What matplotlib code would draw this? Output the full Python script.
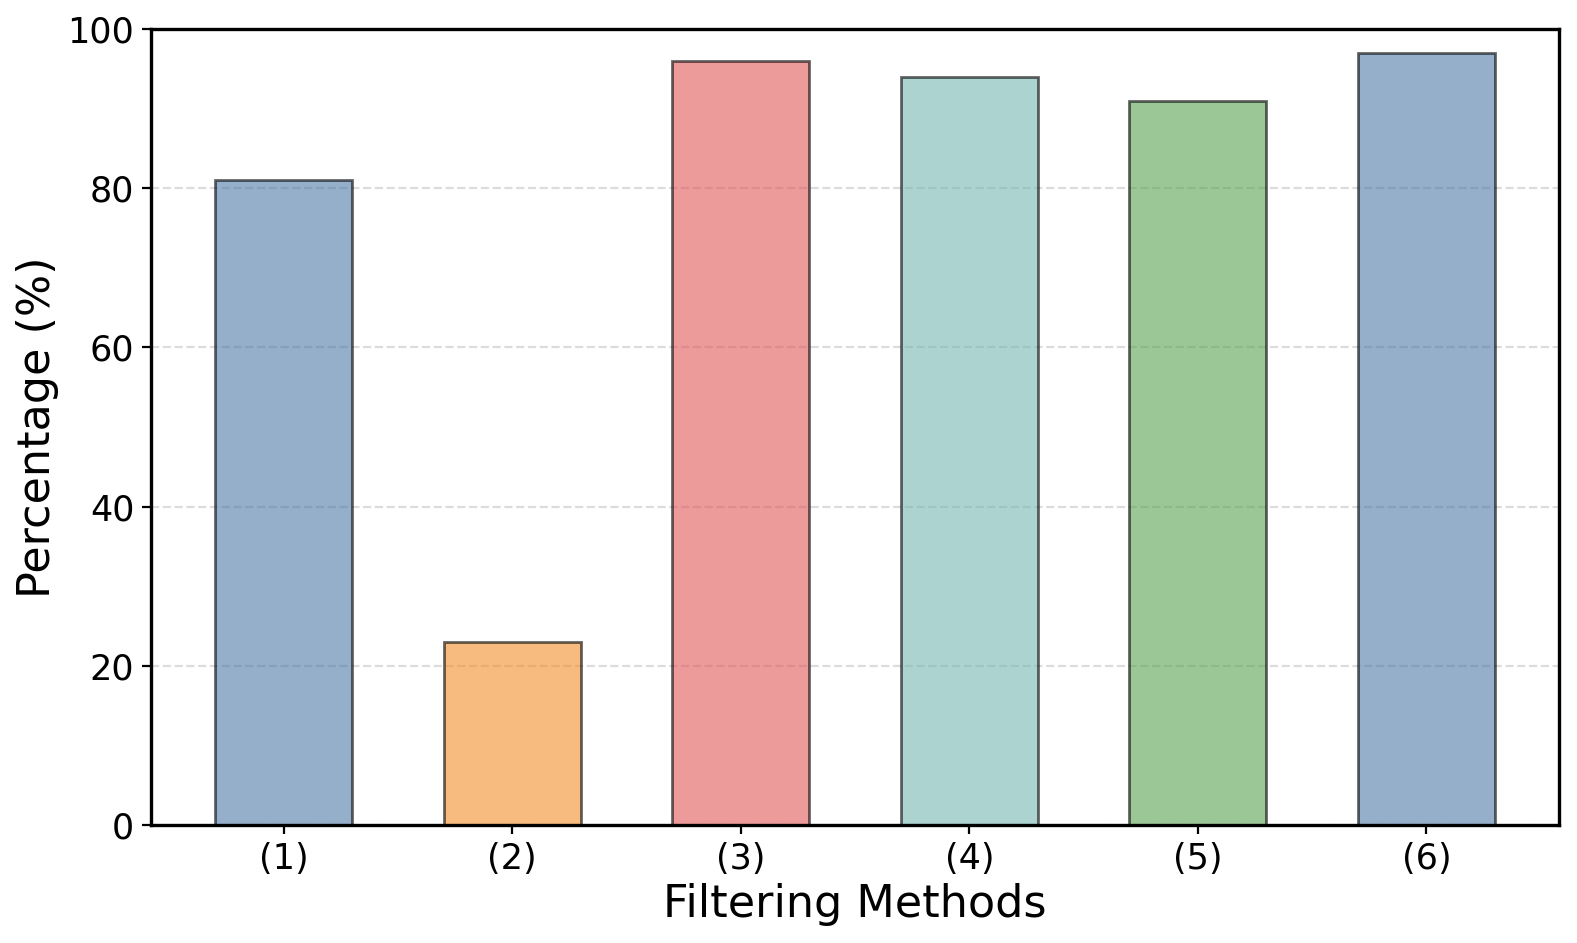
import numpy as np
import matplotlib
matplotlib.use("Agg")
import matplotlib.pyplot as plt

methods = ["(1)", "(2)", "(3)", "(4)", "(5)", "(6)"]
values = [81, 23, 96, 94, 91, 97]
colors = ["#4E79A7", "#F28E2B", "#E15759", "#76B7B2", "#59A14F", "#4E79A7"]

fig = plt.figure(figsize=(7.885, 4.715), dpi=200)
ax = fig.add_axes([0.0958, 0.1251, 0.8928, 0.8441])

x = np.arange(len(methods))
ax.bar(x, values, width=0.6, color=colors, alpha=0.6, edgecolor="black", linewidth=1)
ax.set_xticks(x)
ax.set_xticklabels(methods)
ax.tick_params(axis="both", labelsize=12.6, length=3.2, pad=2.8)
ax.set_ylim(0, 100)
ax.set_xlim(-0.58, 5.58)
ax.set_xlabel("Filtering Methods", fontsize=16, labelpad=2.5)
ax.set_ylabel("Percentage (%)", fontsize=16, labelpad=3)
ax.yaxis.grid(True, linestyle="--", alpha=0.5, color="#bbbbbb")
ax.set_axisbelow(True)
for s in ax.spines.values():
    s.set_linewidth(1.2)

plt.savefig("out.png", dpi=200)
